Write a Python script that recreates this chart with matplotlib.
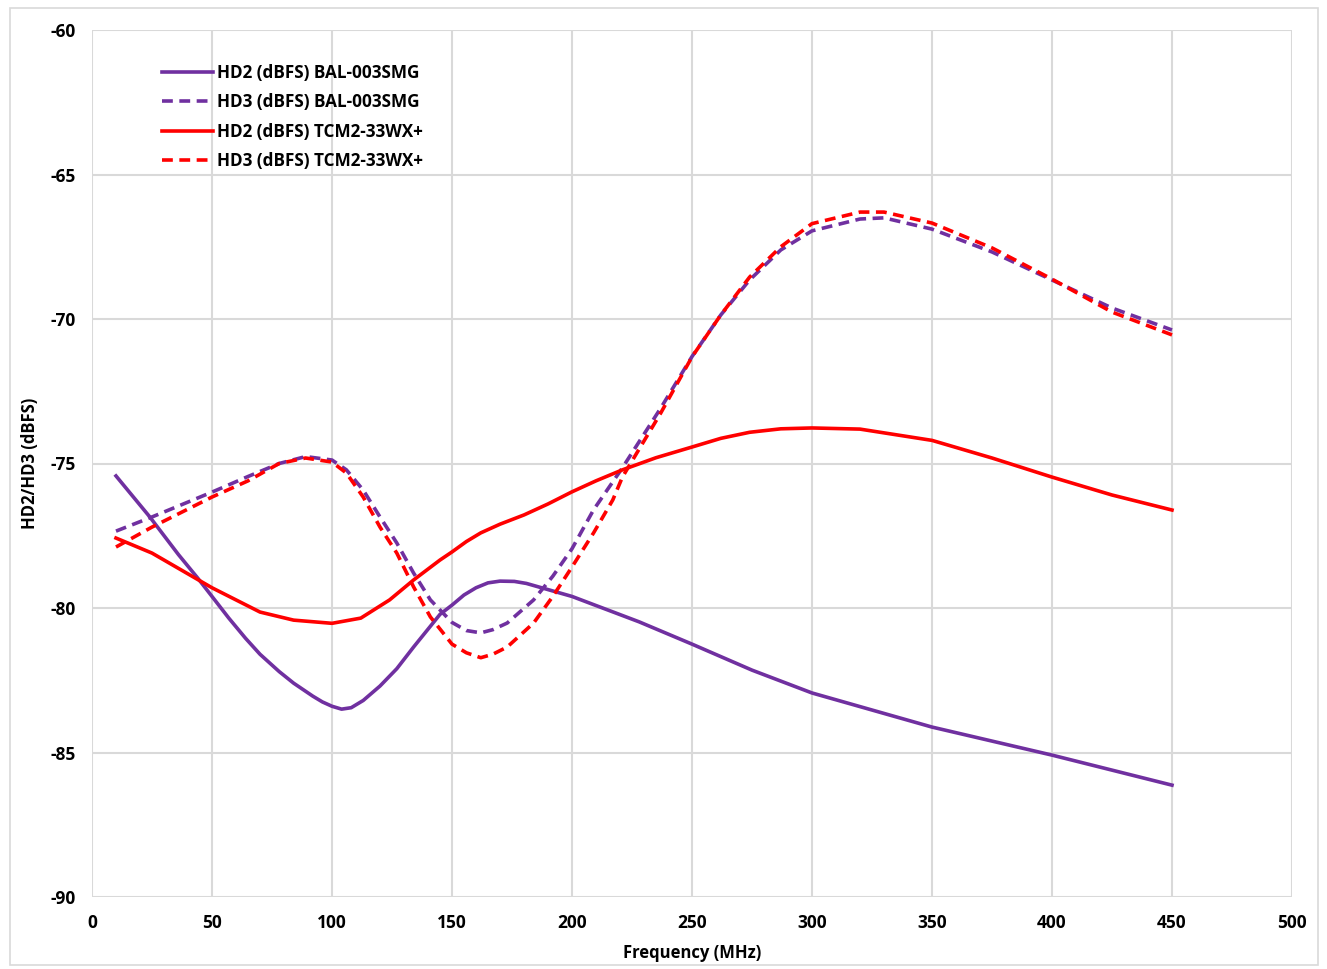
import matplotlib.pyplot as plt
from matplotlib.patches import Rectangle

# HD2 (dBFS) BAL-003SMG
f_hd2_bal = [10, 24, 36, 44, 50, 57, 64, 70, 78, 84, 92, 96, 100, 104, 108, 113, 120, 127, 134, 145,
             150, 155, 160, 165, 170, 176, 181, 200, 228, 250, 275, 300, 350, 400, 450]
hd2_bal = [-75.43, -76.84, -78.15, -78.96, -79.6, -80.35, -81.05, -81.6, -82.2, -82.6, -83.05, -83.25,
           -83.4, -83.5, -83.45, -83.2, -82.7, -82.1, -81.35, -80.22, -79.9, -79.55, -79.3, -79.13,
           -79.07, -79.08, -79.15, -79.6, -80.48, -81.25, -82.15, -82.94, -84.12, -85.09, -86.13]

# HD3 (dBFS) BAL-003SMG
f_hd3_bal = [10, 25, 50, 65, 78, 89, 100, 106, 113, 120, 127, 134, 141, 150, 156, 162, 167, 173, 184,
             192, 200, 209, 221, 237, 250, 262, 274, 287, 300, 320, 330, 350, 375, 400, 425, 450]
hd3_bal = [-77.34, -76.85, -75.99, -75.45, -75.0, -74.76, -74.88, -75.22, -75.92, -76.85, -77.75,
           -78.79, -79.72, -80.5, -80.78, -80.86, -80.75, -80.52, -79.72, -78.9, -77.95, -76.6, -75.15,
           -73.08, -71.3, -69.86, -68.65, -67.61, -66.95, -66.54, -66.5, -66.89, -67.68, -68.65,
           -69.62, -70.38]

# HD2 (dBFS) TCM2-33WX+
f_hd2_tcm = [10, 25, 50, 70, 84, 100, 112, 124, 134, 145, 150, 156, 162, 170, 180, 190, 200, 210, 221,
             235, 250, 262, 274, 287, 300, 320, 350, 375, 400, 425, 450]
hd2_tcm = [-77.58, -78.1, -79.3, -80.14, -80.42, -80.53, -80.35, -79.72, -79.03, -78.34, -78.06, -77.7,
           -77.4, -77.1, -76.78, -76.4, -75.98, -75.6, -75.22, -74.8, -74.43, -74.13, -73.92, -73.8,
           -73.77, -73.81, -74.2, -74.81, -75.47, -76.09, -76.61]

# HD3 (dBFS) TCM2-33WX+
f_hd3_tcm = [10, 25, 50, 65, 78, 89, 100, 106, 113, 120, 127, 134, 141, 150, 156, 162, 167, 173, 184,
             192, 200, 209, 217, 221, 237, 250, 262, 274, 287, 300, 320, 330, 350, 375, 400, 425, 450]
hd3_tcm = [-77.89, -77.2, -76.16, -75.6, -75.0, -74.81, -74.95, -75.33, -76.16, -77.2, -78.1, -79.27,
           -80.31, -81.25, -81.55, -81.72, -81.6, -81.35, -80.52, -79.6, -78.58, -77.4, -76.26, -75.47,
           -73.25, -71.31, -69.86, -68.55, -67.5, -66.7, -66.3, -66.3, -66.68, -67.54, -68.62, -69.76,
           -70.55]

purple = '#7030A0'
red = '#FF0000'
grid_c = '#D9D9D9'

plt.rcParams['font.family'] = ['Open Sans', 'DejaVu Sans']
plt.rcParams['axes.unicode_minus'] = False

fig = plt.figure(figsize=(13.27, 9.69), dpi=100)
ax = fig.add_axes([92 / 1327, 1 - 897 / 969, 1200 / 1327, 867 / 969])

# outer chart border
fig.patches.append(Rectangle((10 / 1327, 4 / 969), 1308 / 1327, 957 / 969, transform=fig.transFigure,
                             fill=False, edgecolor=grid_c, linewidth=1.2))

lw = 2.6
dash = (3.0, 1.8)
ax.plot(f_hd2_bal, hd2_bal, color=purple, lw=lw, label='HD2 (dBFS) BAL-003SMG')
ax.plot(f_hd3_bal, hd3_bal, color=purple, lw=lw, dashes=dash, label='HD3 (dBFS) BAL-003SMG')
ax.plot(f_hd2_tcm, hd2_tcm, color=red, lw=lw, label='HD2 (dBFS) TCM2-33WX+')
ax.plot(f_hd3_tcm, hd3_tcm, color=red, lw=lw, dashes=dash, label='HD3 (dBFS) TCM2-33WX+')

ax.set_xlim(0, 500)
ax.set_ylim(-90, -60)
ax.set_xticks(range(0, 501, 50))
ax.set_yticks(range(-90, -59, 5))
ax.grid(True, color=grid_c, lw=1.5)
ax.set_axisbelow(True)
for s in ax.spines.values():
    s.set_visible(False)
ax.tick_params(length=0, labelsize=12.5)
ax.tick_params(axis='x', pad=12)
ax.tick_params(axis='y', pad=12)
for lab in ax.get_xticklabels() + ax.get_yticklabels():
    lab.set_fontweight('bold')

ax.set_xlabel('Frequency (MHz)', fontsize=12, fontweight='bold', labelpad=9)
ax.set_ylabel('HD2/HD3 (dBFS)', fontsize=12, fontweight='bold')
ax.yaxis.set_label_coords(-0.044, 0.5)

leg = ax.legend(loc='upper left', bbox_to_anchor=(0.0455, 0.979), frameon=False,
                prop={'weight': 'bold', 'size': 12.3}, handlelength=3.0, handletextpad=0.25,
                labelspacing=0.68)

fig.savefig('out.png', dpi=100)
